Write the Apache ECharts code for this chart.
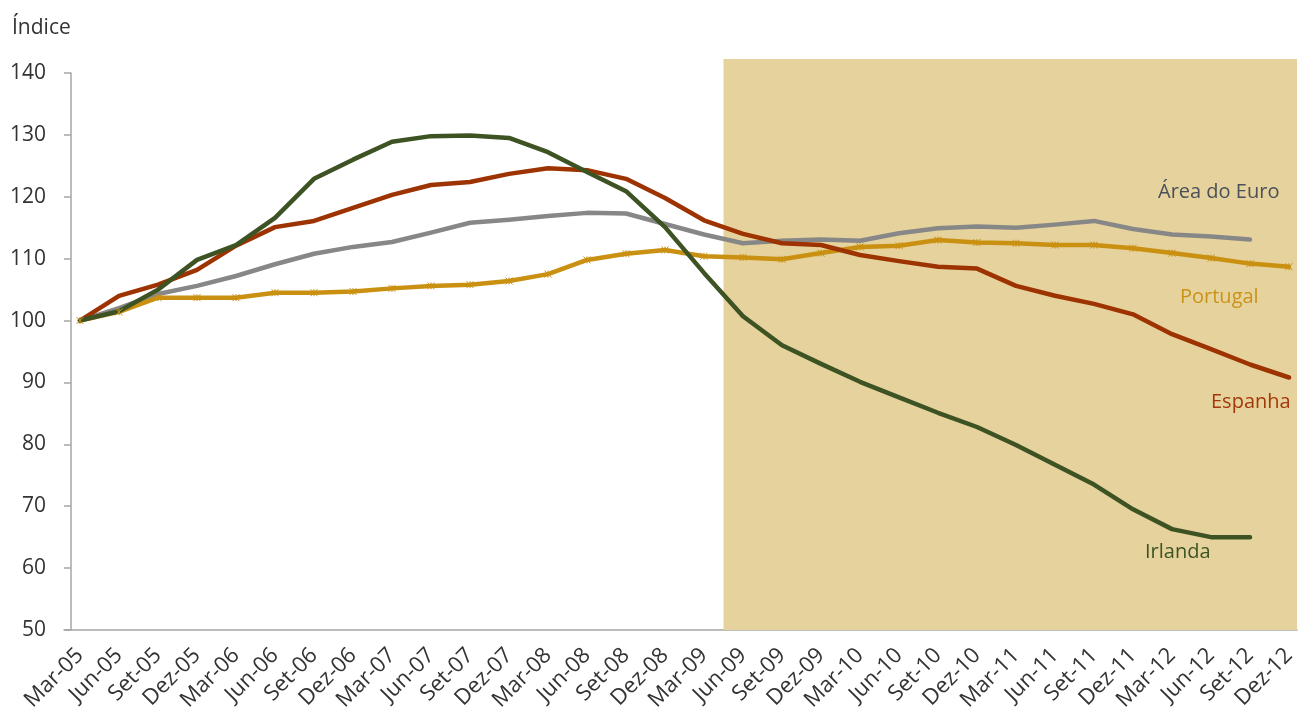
<!DOCTYPE html>
<html>
<head>
<meta charset="utf-8">
<script src="https://cdn.jsdelivr.net/npm/echarts@6/dist/echarts.min.js"></script>
<style>
html,body{margin:0;padding:0;background:#fff;}
#chart{width:1303px;height:725px;}
</style>
</head>
<body>
<div id="chart"></div>
<script>
var categories = ['Mar-05','Jun-05','Set-05','Dez-05','Mar-06','Jun-06','Set-06','Dez-06','Mar-07','Jun-07','Set-07','Dez-07','Mar-08','Jun-08','Set-08','Dez-08','Mar-09','Jun-09','Set-09','Dez-09','Mar-10','Jun-10','Set-10','Dez-10','Mar-11','Jun-11','Set-11','Dez-11','Mar-12','Jun-12','Set-12','Dez-12'];

var irlanda = [100,101.5,105,109.8,112.2,116.6,122.9,126,128.9,129.8,129.9,129.5,127.2,124,120.9,115.1,107.7,100.7,96,93,90.1,87.6,85.1,82.8,79.9,76.7,73.5,69.5,66.3,65,65,null];
var espanha = [100,104,105.8,108.2,112.1,115.1,116.1,118.2,120.3,121.9,122.4,123.7,124.6,124.3,122.9,119.8,116.2,114,112.5,112.2,110.6,109.6,108.7,108.4,105.6,104,102.7,101,97.8,95.4,92.9,90.8];
var euro = [100,102,104.3,105.6,107.2,109.1,110.8,111.9,112.7,114.2,115.8,116.3,116.9,117.4,117.3,115.6,113.9,112.5,112.9,113.1,112.9,114.1,114.9,115.2,115,115.5,116.1,114.8,113.9,113.6,113.1,null];
var portugal = [100,101.4,103.7,103.7,103.7,104.5,104.5,104.7,105.2,105.6,105.8,106.4,107.5,109.8,110.8,111.4,110.4,110.2,109.9,110.9,111.9,112.1,113,112.6,112.5,112.2,112.2,111.7,110.9,110.1,109.2,108.7];

var yTicks = {min:50, max:140, interval:10};
var shadeFrom = 16.5;  // between Mar-09 and Jun-09
var labelsText = ['Área do Euro','Portugal','Espanha','Irlanda'];

var FONT = '"Open Sans", sans-serif';
var chart = echarts.init(document.getElementById('chart'));

var starPath = 'path://M0,0L10,10M0,10L10,0M5,0L5,10';

function lineSeries(name, data, color, extra){
  var s = {
    name: name, type:'line', data:data, xAxisIndex:0, yAxisIndex:0,
    symbol:'none', smooth:false, z:5,
    lineStyle:{color:color, width:4.5, cap:'round', join:'round'},
    itemStyle:{color:color},
    connectNulls:false
  };
  if (extra) for (var k in extra) s[k]=extra[k];
  return s;
}

chart.setOption({
  animation:false,
  grid:[
    {left:80, right:14, top:73, bottom:95, containLabel:false},
    {left:64, right:6, top:59, bottom:95, containLabel:false}
  ],
  xAxis:[
    {type:'category', gridIndex:0, data:categories, boundaryGap:false,
     axisLine:{show:false}, axisTick:{show:false},
     axisLabel:{rotate:45, interval:0, margin:22, color:'#333', fontSize:22, fontFamily:FONT},
     splitLine:{show:false}},
    {type:'value', gridIndex:1, min:-16/39, max:31+8/39,
     axisLine:{show:true, onZero:false, lineStyle:{color:'#a6a6a6', width:1.5}},
     axisTick:{show:false}, axisLabel:{show:false}, splitLine:{show:false}}
  ],
  yAxis:[
    {type:'value', gridIndex:0, min:yTicks.min, max:yTicks.max, interval:yTicks.interval, offset:9,
     axisLine:{show:true, lineStyle:{color:'#a6a6a6', width:1.5}},
     axisTick:{show:true, length:7, lineStyle:{color:'#a6a6a6', width:1.5}},
     axisLabel:{margin:25, color:'#333', fontSize:21, fontFamily:FONT},
     splitLine:{show:false}},
    {type:'value', gridIndex:1, min:0, max:1, show:false}
  ],
  graphic:[
    {type:'text', left:12, top:18, style:{text:'Índice', font:'21px '+FONT, fill:'#333'}},
    {type:'text', left:1158, top:182, z:10, style:{text:labelsText[0], font:'20px '+FONT, fill:'#4a5059'}},
    {type:'text', left:1180, top:287, z:10, style:{text:labelsText[1], font:'20px '+FONT, fill:'#c99318'}},
    {type:'text', left:1211, top:392, z:10, style:{text:labelsText[2], font:'20px '+FONT, fill:'#a3380a'}},
    {type:'text', left:1145, top:542, z:10, style:{text:labelsText[3], font:'20px '+FONT, fill:'#3e5323'}}
  ],
  series:[
    {type:'line', xAxisIndex:1, yAxisIndex:1, data:[], z:0, silent:true,
     markArea:{silent:true, itemStyle:{color:'#e6d29c', opacity:1},
       data:[[{xAxis:shadeFrom, yAxis:0},{xAxis:31+8/39, yAxis:1}]]}},
    lineSeries('Área do Euro', euro, '#878787'),
    lineSeries('Portugal', portugal, '#c99012', {symbol:starPath, symbolSize:7, showSymbol:true,
      itemStyle:{color:'#c99012', borderColor:'#c99012', borderWidth:1}}),
    lineSeries('Espanha', espanha, '#9c3300'),
    lineSeries('Irlanda', irlanda, '#3e5323')
  ]
});
</script>
</body>
</html>
